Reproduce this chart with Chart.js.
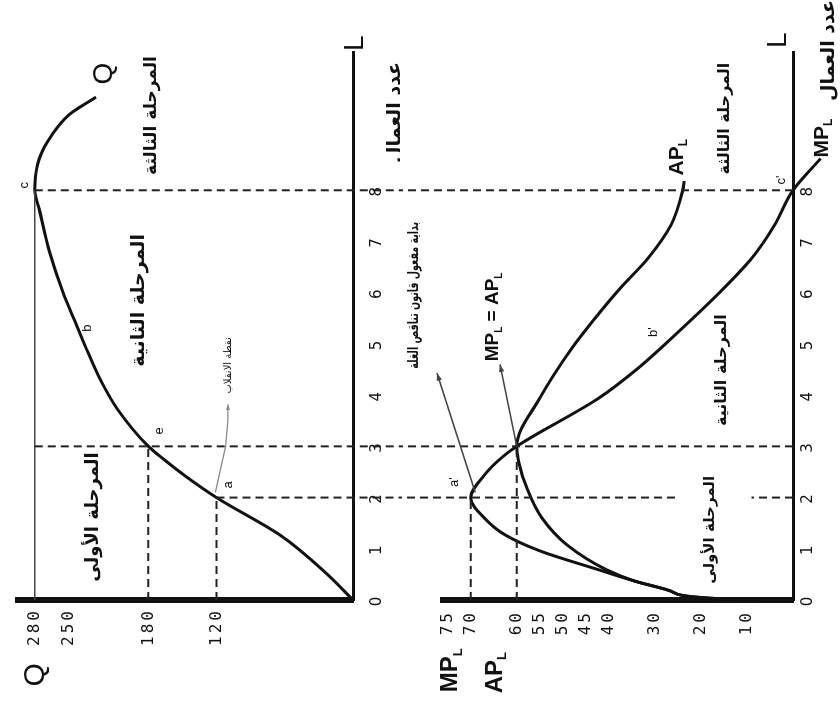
<!DOCTYPE html>
<html lang="ar">
<head>
<meta charset="UTF-8">
<title>مراحل الإنتاج</title>
<script src="https://cdn.jsdelivr.net/npm/chart.js"></script>
<style>
    html, body { margin: 0; padding: 0; background: #fff; overflow: hidden; }
    /* the figure is drawn upright and then turned a quarter turn, like the scan */
    #page {
        position: absolute; left: 0; top: 0;
        width: 707px; height: 840px;
        transform-origin: 0 0;
        transform: translateY(707px) rotate(-90deg);
        background: #fff;
    }
    canvas { display: block; }
</style>
</head>
<body>
<div id="page">
    <canvas id="qChart" width="707" height="400"></canvas>
    <canvas id="pChart" width="707" height="440"></canvas>
</div>
<script>
// number of workers
const lTicks = [0, 1, 2, 3, 4, 5, 6, 7, 8];

// total product Q
const qL   = [0, 0.53, 1.25, 2, 2.43, 2.74, 3, 3.72, 4.25, 4.83, 5.36, 6, 6.8, 7.63, 8, 8.5, 8.94, 9.47, 9.82];
const qVal = [0, 24, 63, 120, 148, 166, 180, 207, 221, 233, 243, 255, 267, 276, 280, 277.5, 269, 250, 226];
const qTicks = [120, 180, 250, 280];

// marginal product MP_L and average product AP_L
const mpL   = [0, 0.03, 0.18, 0.37, 0.59, 0.96, 1.27, 1.6, 2, 2.44, 2.8, 3, 3.94, 4.5, 5.27, 6.09, 6.67, 7.32, 8, 8.62];
const mpVal = [0, 17, 26.7, 34.4, 42.2, 55, 62.5, 67, 70, 67, 63, 60, 42.2, 34, 24.5, 15, 9, 4, 0, -6];
const apL   = [0, 0.03, 0.18, 0.37, 0.59, 1.07, 1.6, 2.19, 2.71, 3, 3.94, 4.92, 5.5, 6.09, 6.67, 7.32, 7.98, 8.18];
const apVal = [0, 17, 26.7, 34.4, 40.5, 49, 54.5, 57.8, 59.6, 60, 55, 48, 43, 37.5, 31.5, 26.5, 24, 23.6];
const pTicks = [10, 20, 30, 40, 45, 50, 55, 60, 70, 75];

// guide points: a, e, c on Q ; a', MP=AP, c' on MP
const qMarkL = [2, 3, 8];
const qMarkVal = [120, 180, 280];
const qDropFrom = [120, 280, 280];
const pMarkL = [2, 3, 8];
const pMarkVal = [70, 60, 0];

const AR = "'DejaVu Sans', sans-serif";
const LAT = "'Liberation Sans', Arial, sans-serif";
const INK = '#111';

const pts = (xs, ys) => xs.map((x, i) => ({ x: x, y: ys[i] }));

function curve(data) {
    return { data: data, borderColor: INK, borderWidth: 3, pointRadius: 0,
             cubicInterpolationMode: 'monotone', clip: false, fill: false };
}
function dashed(data) {
    return { data: data, borderColor: '#222', borderWidth: 2, borderDash: [8, 5],
             pointRadius: 0, clip: false, fill: false, spanGaps: false };
}

const notesPlugin = {
    id: 'notes',
    beforeDraw(chart) {
        // spaced-out digits like the typewriter ticks of the scan
        chart.ctx.letterSpacing = '3px';
    },
    afterDraw(chart, args, opts) {
        const ctx = chart.ctx;
        const sx = chart.scales.x, sy = chart.scales.y;
        const px = p => [sx.getPixelForValue(p[0]), sy.getPixelForValue(p[1])];
        ctx.letterSpacing = '0px';
        ctx.save();
        for (const a of opts.arrows || []) {
            const pp = a.path.map(px);
            ctx.strokeStyle = a.color;
            ctx.fillStyle = a.color;
            ctx.lineWidth = a.width || 1.5;
            ctx.beginPath();
            pp.forEach((p, i) => i ? ctx.lineTo(p[0], p[1]) : ctx.moveTo(p[0], p[1]));
            ctx.stroke();
            const p1 = pp[pp.length - 2], p2 = pp[pp.length - 1];
            const ang = Math.atan2(p2[1] - p1[1], p2[0] - p1[0]);
            const h = a.head || 8;
            ctx.beginPath();
            ctx.moveTo(p2[0], p2[1]);
            ctx.lineTo(p2[0] - h * Math.cos(ang - 0.35), p2[1] - h * Math.sin(ang - 0.35));
            ctx.lineTo(p2[0] - h * Math.cos(ang + 0.35), p2[1] - h * Math.sin(ang + 0.35));
            ctx.closePath();
            ctx.fill();
        }
        ctx.fillStyle = INK;
        ctx.textBaseline = 'middle';
        ctx.textAlign = 'left';
        for (const t of opts.labels || []) {
            const parts = t.parts || [[t.text]];
            const size = t.size || 14, weight = t.weight || 'normal', fam = t.family || LAT;
            const squeeze = t.squeeze || 1;
            const fonts = parts.map(p => `${weight} ${p[1] ? Math.round(size * 0.55) : size}px ${fam}`);
            const widths = parts.map((p, i) => { ctx.font = fonts[i]; return ctx.measureText(p[0]).width; });
            const total = widths.reduce((s, w) => s + w, 0);
            const c = px(t.at);
            ctx.save();
            ctx.translate(c[0], c[1]);
            ctx.scale(squeeze, 1);
            let x0 = t.align === 'left' ? 0 : -total / 2;
            parts.forEach((p, i) => {
                ctx.font = fonts[i];
                ctx.fillText(p[0], x0, p[1] ? size * 0.32 : 0);
                x0 += widths[i];
            });
            ctx.restore();
        }
        ctx.restore();
    }
};

function axes(yMax, yTicks, xPad, yPad) {
    return {
        x: {
            type: 'linear', min: 0, max: 10.7,
            afterBuildTicks: ax => { ax.ticks = lTicks.map(v => ({ value: v })); },
            afterFit: ax => { ax.height = 47; },
            grid: { display: false, drawTicks: false },
            border: { color: INK, width: 3 },
            ticks: { color: INK, padding: xPad, autoSkip: false, maxRotation: 0,
                     font: { family: "'DejaVu Sans'", size: 15 } }
        },
        y: {
            type: 'linear', min: 0, max: yMax,
            afterBuildTicks: ax => { ax.ticks = yTicks.map(v => ({ value: v })); },
            afterFit: ax => { ax.width = 107; },
            grid: { display: false, drawTicks: false },
            border: { color: INK, width: 6 },
            ticks: { color: INK, padding: yPad, autoSkip: false,
                     font: { family: "'DejaVu Sans Mono'", size: 16 } }
        }
    };
}

const stage1 = 'المرحلة الأولى', stage2 = 'المرحلة الثانية', stage3 = 'المرحلة الثالثة';
const workers = 'عدد العمال';

// ---- total product ----
const qSets = [];
qMarkL.forEach((l, i) => qSets.push(dashed([{ x: l, y: qDropFrom[i] }, { x: l, y: -140 }])));
qSets.push(dashed([{ x: 0, y: qMarkVal[0] }, { x: qMarkL[0], y: qMarkVal[0] }]));
qSets.push(dashed([{ x: 0, y: qMarkVal[1] }, { x: qMarkL[1], y: qMarkVal[1] }]));
qSets.push({ data: [{ x: 0, y: qMarkVal[2] }, { x: qMarkL[2], y: qMarkVal[2] }],
             borderColor: '#444', borderWidth: 1.5, pointRadius: 0 });
qSets.push(curve(pts(qL, qVal)));

new Chart(document.getElementById('qChart'), {
    type: 'line',
    data: { datasets: qSets },
    plugins: [notesPlugin],
    options: {
        responsive: false, animation: false, devicePixelRatio: 1,
        layout: { padding: { top: 15, right: 52, left: 0, bottom: 0 } },
        scales: axes(295, qTicks, 15, 8),
        plugins: {
            legend: { display: false }, tooltip: { enabled: false },
            notes: {
                arrows: [
                    { path: [[2.1, 121], [2.5, 117], [3.0, 112], [3.5, 110], [3.82, 110]], color: '#888', width: 1.3, head: 6 }
                ],
                labels: [
                    { text: 'Q', at: [-1.46, 279], size: 30 },
                    { text: 'Q', at: [10.28, 219], size: 28 },
                    { text: 'L', at: [10.87, -2], size: 28 },
                    { text: workers, at: [9.52, -36.6], size: 19, weight: 'bold', family: AR },
                    { text: stage1, at: [1.62, 228], size: 18, weight: 'bold', family: AR },
                    { text: stage2, at: [5.85, 188], size: 19, weight: 'bold', family: AR },
                    { text: stage3, at: [9.46, 177], size: 17, weight: 'bold', family: AR },
                    { text: 'نقطة الانقلاب', at: [4.58, 110], size: 10, family: AR },
                    { text: 'a', at: [2.25, 110], size: 13 },
                    { text: 'e', at: [3.3, 170], size: 13 },
                    { text: 'b', at: [5.31, 234], size: 13 },
                    { text: 'c', at: [8.1, 289], size: 13 }
                ]
            }
        }
    }
});

// ---- marginal and average product ----
const pSets = [];
pSets.push(dashed([{ x: pMarkL[0], y: 0 }, { x: pMarkL[0], y: 9 }, { x: pMarkL[0], y: null },
                   { x: pMarkL[0], y: 25.6 }, { x: pMarkL[0], y: 130 }]));
pSets.push(dashed([{ x: pMarkL[1], y: 0 }, { x: pMarkL[1], y: 130 }]));
pSets.push(dashed([{ x: pMarkL[2], y: 0 }, { x: pMarkL[2], y: 130 }]));
pSets.push(dashed([{ x: 0, y: pMarkVal[0] }, { x: pMarkL[0], y: pMarkVal[0] }]));
pSets.push(dashed([{ x: 0, y: pMarkVal[1] }, { x: pMarkL[1], y: pMarkVal[1] }]));
pSets.push(curve(pts(apL, apVal)));
pSets.push(curve(pts(mpL, mpVal)));

new Chart(document.getElementById('pChart'), {
    type: 'line',
    data: { datasets: pSets },
    plugins: [notesPlugin],
    options: {
        responsive: false, animation: false, devicePixelRatio: 1,
        layout: { padding: { top: 43, right: 52, left: 0, bottom: 0 } },
        scales: axes(76, pTicks, 6, 10),
        plugins: {
            legend: { display: false }, tooltip: { enabled: false },
            notes: {
                arrows: [
                    { path: [[2.1, 69], [4.43, 77.3]], color: '#444', width: 1.5, head: 8 },
                    { path: [[3, 60], [4.6, 63.6]], color: '#444', width: 1.5, head: 8 }
                ],
                labels: [
                    { parts: [['MP'], ['L', 1]], at: [-1.37, 74.3], size: 24, weight: 'bold' },
                    { parts: [['AP'], ['L', 1]], at: [-1.42, 64.7], size: 24, weight: 'bold' },
                    { parts: [['MP'], ['L', 1], [' = AP'], ['L', 1]], at: [4.66, 65.1], size: 19, weight: 'bold', align: 'left' },
                    { parts: [['AP'], ['L', 1]], at: [8.29, 25.2], size: 21, weight: 'bold', align: 'left' },
                    { parts: [['MP'], ['L', 1]], at: [8.64, -6.3], size: 21, weight: 'bold', align: 'left' },
                    { text: 'L', at: [10.93, 3.3], size: 28 },
                    { text: workers, at: [10.73, -7.8], size: 19, weight: 'bold', family: AR },
                    { text: 'بداية مفعول قانون تناقص الغلة', at: [5.95, 82.3], size: 14, weight: 'bold', family: AR, squeeze: 0.68 },
                    { text: stage1, at: [1.37, 18], size: 15, weight: 'bold', family: AR },
                    { text: stage2, at: [4.49, 15.4], size: 16, weight: 'bold', family: AR },
                    { text: stage3, at: [9.4, 14.8], size: 16, weight: 'bold', family: AR },
                    { text: "a'", at: [2.3, 73.5], size: 13 },
                    { text: "b'", at: [5.23, 30.4], size: 13 },
                    { text: "c'", at: [8.2, 2.5], size: 13 }
                ]
            }
        }
    }
});
</script>
</body>
</html>
